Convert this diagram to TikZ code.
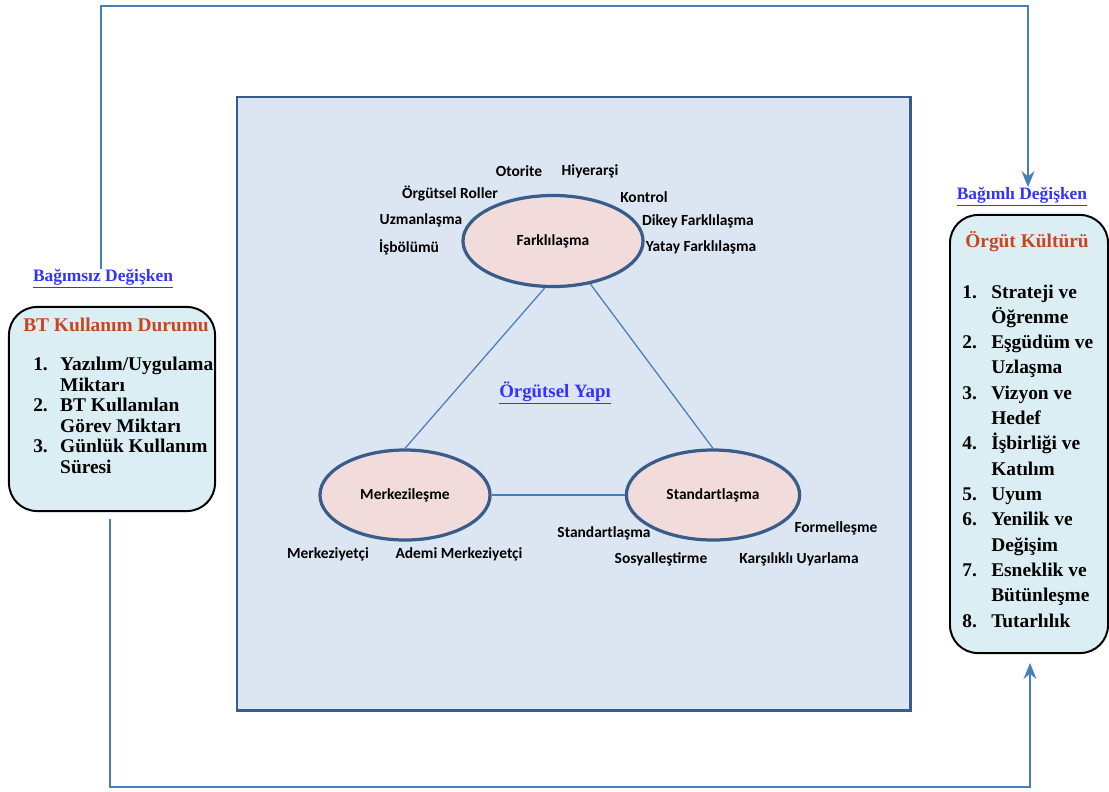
\documentclass[tikz,border=0pt]{standalone}
\usepackage{fontspec}
\setmainfont{Liberation Serif}
\newfontfamily\calibri{Carlito}
\usetikzlibrary{arrows.meta,shapes.geometric}
\definecolor{flowblue}{RGB}{74,126,187}
\definecolor{frameblue}{RGB}{56,93,138}
\definecolor{panelfill}{RGB}{220,230,242}
\definecolor{ovalfill}{RGB}{242,220,219}
\definecolor{boxfill}{RGB}{218,238,243}
\definecolor{titlered}{RGB}{200,70,30}
\definecolor{linkblue}{RGB}{51,51,255}
\begin{document}
\begin{tikzpicture}[x=0.025cm,y=-0.025cm,
    lbl/.style={font=\calibri\bfseries\fontsize{11}{13}\selectfont,inner sep=0pt},
    oval/.style={ellipse,draw=frameblue,line width=2.3pt,fill=ovalfill,inner sep=0pt,
      font=\calibri\bfseries\fontsize{11}{13}\selectfont},
    edgeline/.style={draw=flowblue,line width=0.9pt},
    flowline/.style={draw=flowblue,line width=2pt,-{Stealth[length=0.4cm,width=0.32cm]}},
    varbox/.style={draw=black,line width=1.4pt,fill=boxfill,rounded corners=0.7cm},
    varname/.style={font=\bfseries\fontsize{12.4}{14}\selectfont,text=linkblue,inner sep=0pt},
    boxtitle/.style={font=\bfseries\fontsize{13.8}{16}\selectfont,text=titlered,inner sep=0pt}]
  \useasboundingbox (0,0) rectangle (1109,791);
  % panel
  \node[draw=frameblue,line width=2pt,fill=panelfill,minimum width=16.825cm,
    minimum height=15.325cm] (panel) at (573.5,403.5) {};
  % ovals
  \node[oval,minimum width=4.5cm,minimum height=2.275cm]  (far) at (553,241) {Farklılaşma};
  \node[oval,minimum width=4.25cm,minimum height=2.25cm]  (mer) at (405,495) {Merkezileşme};
  \node[oval,minimum width=4.33cm,minimum height=2.25cm]  (std) at (713,495) {Standartlaşma};
  %
  \draw[edgeline] (far.-100) -- (mer.north);
  \draw[edgeline] (far.-49) -- (std.north);
  \draw[edgeline] (mer) -- (std);
  %
  \node[font=\bfseries\fontsize{13.4}{15}\selectfont,text=linkblue,inner sep=0pt] (yapi) at (555,393) {\underline{Örgütsel Yapı}};
  % labels round the ovals
  \node[lbl] (otor) at (519,171) {Otorite};
  \node[lbl] (hiye) at (590,171) {Hiyerarşi};
  \node[lbl] (rol)  at (450,194) {Örgütsel Roller};
  \node[lbl] (kont) at (644,197) {Kontrol};
  \node[lbl] (uzm)  at (421,220) {Uzmanlaşma};
  \node[lbl] (dikey) at (698,221) {Dikey Farklılaşma};
  \node[lbl] (isb)  at (409,247) {İşbölümü};
  \node[lbl] (yatay) at (701,247) {Yatay Farklılaşma};
  \node[lbl] (mrk)  at (328,554) {Merkeziyetçi};
  \node[lbl] (adm)  at (459,554) {Ademi Merkeziyetçi};
  \node[lbl] (stdl) at (604,533) {Standartlaşma};
  \node[lbl] (form) at (836,528) {Formelleşme};
  \node[lbl] (sos)  at (661,559) {Sosyalleştirme};
  \node[lbl] (kars) at (799,559) {Karşılıklı  Uyarlama};
  % left box
  \node[varname] (indep) at (103,279) {\underline{Bağımsız Değişken}};
  \node[varbox,minimum width=5.15cm,minimum height=5.1cm] (lbox) at (112,409) {};
  \node[boxtitle] (ltitle) at (116,325) {BT Kullanım Durumu};
  \node[anchor=north west,inner sep=0pt,font=\bfseries\fontsize{13.8}{14.6}\selectfont] (llist) at (33,356)
    {\begin{tabular}{@{}l@{\hspace{0.31cm}}l@{}}
      1. & Yazılım/Uygulama\\
         & Miktarı\\
      2. & BT Kullanılan\\
         & Görev Miktarı\\
      3. & Günlük Kullanım\\
         & Süresi
    \end{tabular}};
  % right box
  \node[varname] (dep) at (1022,197) {\underline{Bağımlı Değişken}};
  \node[varbox,minimum width=3.95cm,minimum height=10.95cm] (rbox) at (1029,434) {};
  \node[boxtitle] (rtitle) at (1027,242) {Örgüt Kültürü};
  \node[anchor=north west,inner sep=0pt,font=\bfseries\fontsize{13.8}{18}\selectfont] (rlist) at (962,280)
    {\begin{tabular}{@{}l@{\hspace{0.36cm}}l@{}}
      1. & Strateji  ve\\
         & Öğrenme\\
      2. & Eşgüdüm ve\\
         & Uzlaşma\\
      3. & Vizyon ve\\
         & Hedef\\
      4. & İşbirliği ve\\
         & Katılım\\
      5. & Uyum\\
      6. & Yenilik ve\\
         & Değişim\\
      7. & Esneklik ve\\
         & Bütünleşme\\
      8. & Tutarlılık
    \end{tabular}};
  % connectors
  \coordinate (tl) at (101,6);
  \coordinate (tr) at (1028,6);
  \coordinate (bl) at (110,787);
  \coordinate (br) at (1030,787);
  \draw[flowline] (indep.north -| tl) -- (tl) -- (tr) -- (tr |- dep.north);
  \draw[flowline,shorten <=0.175cm,shorten >=0.22cm] (lbox.south -| bl) -- (bl) -- (br) -- (br |- rbox.south);
\end{tikzpicture}
\end{document}
